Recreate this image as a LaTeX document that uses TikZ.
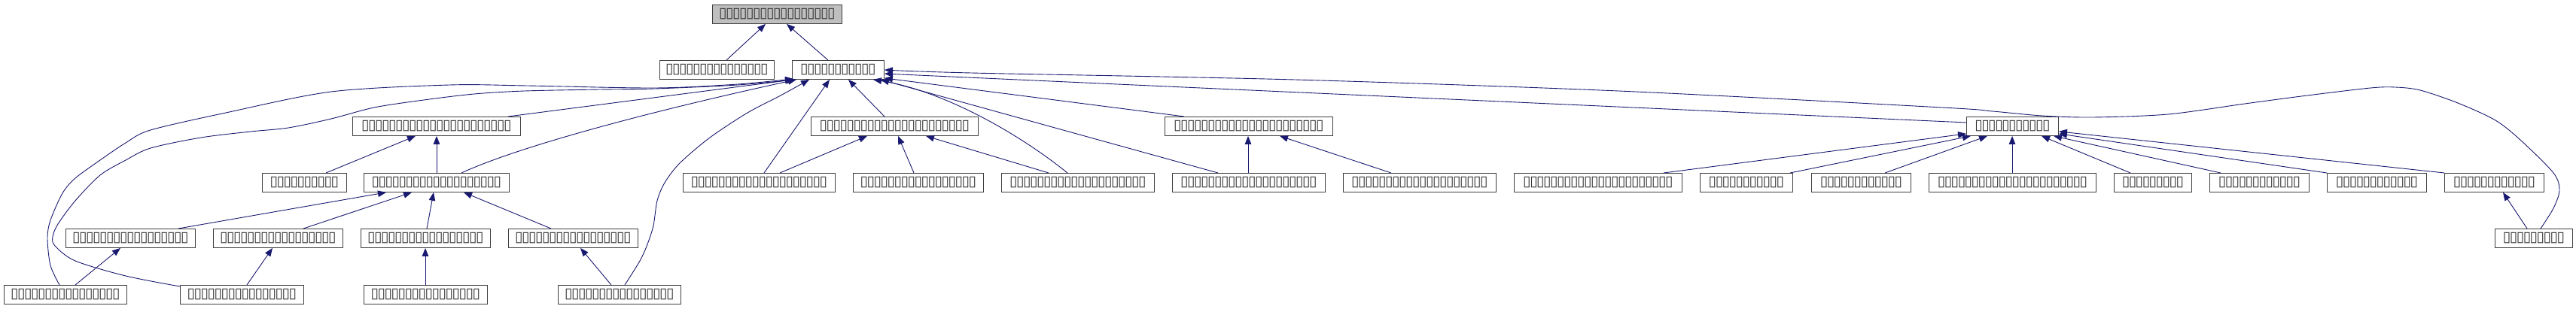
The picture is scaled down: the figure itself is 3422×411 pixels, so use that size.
\documentclass[tikz,border=0pt]{standalone}
\usepackage{fontspec}
\newfontfamily\tofufont{DejaVu Sans}
\usetikzlibrary{arrows.meta}
\definecolor{edgeblue}{HTML}{191970}
\definecolor{boxgray}{HTML}{BFBFBF}
\newcommand\tofu[1]{\raisebox{0.5pt}{\foreach \i in {1,...,#1}{\makebox[9pt]{▯}}}}
\tikzset{
  nbox/.style={draw=black!75, line width=0.9pt, fill=white, inner sep=0pt,
    minimum height=25pt, anchor=north west, text=black!80,
    font=\tofufont\fontsize{19}{19}\selectfont},
  topbox/.style={nbox, fill=boxgray},
  edge/.style={draw=edgeblue, line width=0.9pt,
    -{Triangle[length=11pt,width=8.5pt]}},
}
\begin{document}
\begin{tikzpicture}[x=1pt,y=-1pt]
\useasboundingbox (0,0) rectangle (3422,411);
% row 1
\node[topbox, minimum width=172pt] (nT0) at (946,6) {\tofu{17}};
% row 2
\node[nbox, minimum width=152pt] (nA) at (876,80) {\tofu{15}};
\node[nbox, minimum width=122pt] (nB) at (1052,80) {\tofu{11}};
% row 3
\node[nbox, minimum width=223pt] (nC) at (468,155) {\tofu{22}};
\node[nbox, minimum width=222pt] (nD) at (1077,155) {\tofu{22}};
\node[nbox, minimum width=223pt] (nE) at (1547,155) {\tofu{22}};
\node[nbox, minimum width=122pt] (nF) at (2612,155) {\tofu{11}};
% row 4
\node[nbox, minimum width=112pt] (nH) at (348,230) {\tofu{10}};
\node[nbox, minimum width=193pt] (nG) at (483,230) {\tofu{19}};
\node[nbox, minimum width=202pt] (nQ) at (907,230) {\tofu{20}};
\node[nbox, minimum width=173pt] (nR) at (1133,230) {\tofu{17}};
\node[nbox, minimum width=203pt] (nS) at (1330,230) {\tofu{20}};
\node[nbox, minimum width=203pt] (nT) at (1557,230) {\tofu{20}};
\node[nbox, minimum width=203pt] (nU) at (1784,230) {\tofu{20}};
\node[nbox, minimum width=223pt] (nV) at (2011,230) {\tofu{22}};
\node[nbox, minimum width=123pt] (nW) at (2258,230) {\tofu{11}};
\node[nbox, minimum width=132pt] (nX) at (2406,230) {\tofu{12}};
\node[nbox, minimum width=222pt] (nY) at (2562,230) {\tofu{22}};
\node[nbox, minimum width=103pt] (nZ) at (2808,230) {\tofu{9}};
\node[nbox, minimum width=132pt] (nAA) at (2935,230) {\tofu{12}};
\node[nbox, minimum width=132pt] (nAB) at (3091,230) {\tofu{12}};
\node[nbox, minimum width=132pt] (nAC) at (3247,230) {\tofu{12}};
% row 5
\node[nbox, minimum width=172pt] (nI) at (87,304) {\tofu{17}};
\node[nbox, minimum width=172pt] (nJ) at (283,304) {\tofu{17}};
\node[nbox, minimum width=172pt] (nK) at (479,304) {\tofu{17}};
\node[nbox, minimum width=172pt] (nL) at (675,304) {\tofu{17}};
\node[nbox, minimum width=103pt] (nAD) at (3314,304) {\tofu{9}};
% row 6
\node[nbox, minimum width=163pt] (nO) at (5,379) {\tofu{16}};
\node[nbox, minimum width=164pt] (nP) at (239,379) {\tofu{16}};
\node[nbox, minimum width=164pt] (nM) at (483,379) {\tofu{16}};
\node[nbox, minimum width=163pt] (nN) at (741,379) {\tofu{16}};

% edges to top
\draw[edge] ([xshift=89pt]nA.north west) -- ([xshift=71pt]nT0.south west);
\draw[edge] ([xshift=48pt]nB.north west) -- ([xshift=99pt]nT0.south west);

% long curves into B
\draw[edge] plot[smooth] coordinates {([xshift=74pt]nO.north west) (67,353) (63,317) (67,293) (83,257) (100,237) (133,213) (167,190) (200,173) (300,150) (440,122) (597,113) (700,114) (870,117) (980,112) ([xshift=2pt,yshift=1pt]nB.south west)};
\draw[edge] plot[smooth] coordinates {([yshift=-2pt]nP.north west) (167,367) (100,347) (73,327) (70,315) (77,298) (100,267) (133,233) (167,213) (200,197) (267,183) (333,175) (383,170) (440,158) (497,143) (563,133) (630,125) (697,121) (797,119) (870,118) (980,113) ([xshift=4pt]nB.south west)};
\draw[edge] plot[smooth] coordinates {([xshift=89pt]nN.north west) (850,347) (860,325) (868,300) (873,267) (883,243) (903,217) (943,183) (993,150) (1037,127) ([xshift=23pt]nB.south west)};
\draw[edge] plot[smooth] coordinates {([xshift=61pt]nAD.north west) (3392,277) (3400,253) (3392,230) (3349,187) (3315,160) (3265,137) (3215,120) (3182,116) (3149,117) (3065,127) (2982,138) (2880,152) (2780,156) (2713,154) (2647,148) (2580,143) (2150,121) (1720,106) (1290,97) ([yshift=-13pt]nB.north east)};

% straight edges into B
\draw[edge] ([xshift=207pt]nC.north west) -- ([xshift=2pt]nB.south west);
\draw[edge] ([xshift=130pt]nG.north west) .. controls (700,190) and (900,140) .. ([xshift=6pt]nB.south west);
\draw[edge] ([xshift=108pt]nQ.north west) -- ([xshift=50pt]nB.south west);
\draw[edge] ([xshift=98pt]nD.north west) -- ([xshift=75pt]nB.south west);
\draw[edge] ([xshift=88pt]nS.north west) .. controls (1350,175) and (1250,120) .. ([xshift=108pt]nB.south west);
\draw[edge] ([xshift=61pt]nT.north west) -- ([xshift=118pt]nB.south west);
\draw[edge] ([xshift=26pt]nE.north west) -- ([yshift=2pt]nB.south east);
\draw[edge] ([yshift=-8pt]nF.north west) -- ([yshift=-18pt]nB.north east);

% into D
\draw[edge] ([xshift=129pt]nQ.north west) -- ([xshift=75pt]nD.south west);
\draw[edge] ([xshift=81pt]nR.north west) -- ([xshift=116pt]nD.south west);
\draw[edge] ([xshift=63pt]nS.north west) -- ([xshift=153pt]nD.south west);

% into C
\draw[edge] ([xshift=85pt]nH.north west) -- ([xshift=84pt]nC.south west);
\draw[edge] ([xshift=97pt]nG.north west) -- ([xshift=112pt]nC.south west);

% into G
\draw[edge] ([xshift=150pt]nI.north west) -- ([xshift=30pt]nG.south west);
\draw[edge] ([xshift=120pt]nJ.north west) -- ([xshift=64pt]nG.south west);
\draw[edge] ([xshift=88pt]nK.north west) -- ([xshift=93pt]nG.south west);
\draw[edge] ([xshift=57pt]nL.north west) -- ([xshift=133pt]nG.south west);

% row 6 to row 5
\draw[edge] ([xshift=95pt]nO.north west) -- ([xshift=73pt]nI.south west);
\draw[edge] ([xshift=89pt]nP.north west) -- ([xshift=79pt]nJ.south west);
\draw[edge] ([xshift=82pt]nM.north west) -- ([xshift=86pt]nK.south west);
\draw[edge] ([xshift=71pt]nN.north west) -- ([xshift=96pt]nL.south west);

% into E
\draw[edge] ([xshift=101pt]nT.north west) -- ([xshift=111pt]nE.south west);
\draw[edge] ([xshift=64pt]nU.north west) -- ([xshift=153pt]nE.south west);

% into F
\draw[edge] ([xshift=199pt]nV.north west) -- ([yshift=3pt]nF.south west);
\draw[edge] ([xshift=120pt]nW.north west) -- ([xshift=6pt]nF.south west);
\draw[edge] ([xshift=98pt]nX.north west) -- ([xshift=28pt]nF.south west);
\draw[edge] ([xshift=111pt]nY.north west) -- ([xshift=61pt]nF.south west);
\draw[edge] ([xshift=22pt]nZ.north west) -- ([xshift=100pt]nF.south west);
\draw[edge] ([xshift=15pt]nAA.north west) -- ([xshift=116pt]nF.south west);
\draw[edge] (nAB.north west) -- ([yshift=3pt]nF.south east);
\draw[edge] (nAC.north west) -- ([yshift=6pt]nF.south east);

% AD to AC
\draw[edge] ([xshift=43pt]nAD.north west) -- ([xshift=78pt]nAC.south west);
\end{tikzpicture}
\end{document}
